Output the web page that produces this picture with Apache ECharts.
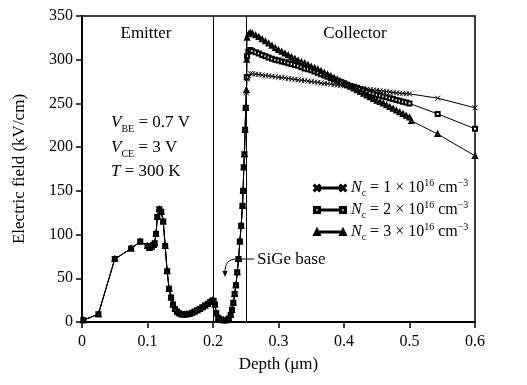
<!DOCTYPE html>
<html>
<head>
<meta charset="utf-8">
<script src="https://cdn.jsdelivr.net/npm/echarts@6/dist/echarts.min.js"></script>
<style>html,body{margin:0;padding:0;background:#fff;}#c{width:527px;height:385px;}</style>
</head>
<body>
<div id="c"></div>
<script>
// Shared emitter/base profile (all three doping levels overlap here)
var sharedProfile = [
  [0.002,2],[0.025,9],[0.05,72],[0.075,84],[0.089,92],[0.1,87],[0.103,85],[0.106,86],[0.109,88],
  [0.111,90],[0.113,101],[0.115,120],[0.118,129],[0.121,126],[0.124,115],[0.127,87],[0.13,58],
  [0.133,38],[0.136,28],[0.139,20],[0.142,15],[0.145,12],[0.148,10],[0.152,9],[0.156,8.5],[0.16,9],
  [0.164,9.5],[0.168,10.5],[0.172,12],[0.176,13.5],[0.18,15],[0.184,17],[0.188,19],[0.192,21],
  [0.196,23],[0.199,24.5],[0.201,24],[0.203,20],[0.205,10],[0.208,5],[0.212,3],[0.216,2],[0.22,2],
  [0.224,4],[0.227,8],[0.229,14],[0.231,22],[0.233,32],[0.235,42],[0.237,57],[0.239,72],[0.241,92],
  [0.243,110],[0.245,133],[0.246,150],[0.247,177],[0.248,192],[0.249,220],[0.25,245]
];
// Collector region, Nc = 1e16
var collector1 = [
  [0.251,262],[0.252,278],[0.254,282],[0.257,284],[0.26,284],[0.265,283.5],[0.27,283],[0.275,282.5],
  [0.28,282],[0.285,281.5],[0.29,281],[0.295,280.5],[0.30,280],[0.305,279.5],[0.31,279],[0.315,278.5],
  [0.32,278],[0.325,277.5],[0.33,277],[0.335,276.5],[0.34,276],[0.345,275.5],[0.35,275],[0.355,274.5],
  [0.36,274],[0.365,273.5],[0.37,273],[0.375,272.5],[0.38,272],[0.385,271.5],[0.39,271],[0.395,270.5],
  [0.40,270],[0.405,269.5],[0.41,269],[0.415,268.5],[0.42,268],[0.425,267.5],[0.43,267],[0.435,266.5],
  [0.44,266],[0.445,265.5],[0.45,265],[0.455,264.5],[0.46,264],[0.465,263.5],[0.47,263],[0.475,262.5],
  [0.48,262],[0.485,261.8],[0.49,261.5],[0.495,261.2],[0.50,261],[0.543,256],[0.6,245]
];
// Nc = 2e16
var collector2 = [
  [0.2515,280],[0.252,304],[0.254,309],[0.257,311],[0.26,310],[0.265,308.5],[0.27,307],[0.275,305.5],
  [0.28,304],[0.285,302.5],[0.29,301],[0.295,300],[0.30,299],[0.305,298],[0.31,297],[0.315,296],
  [0.32,295],[0.325,294],[0.33,293],[0.335,291.5],[0.34,290],[0.345,289],[0.35,288],[0.355,286.5],
  [0.36,285],[0.365,283.5],[0.37,282],[0.375,280.5],[0.38,279],[0.385,277.5],[0.39,276],[0.395,274.5],
  [0.40,273],[0.405,271.5],[0.41,270],[0.415,269],[0.42,268],[0.425,266.5],[0.43,265],[0.435,263.5],
  [0.44,262],[0.445,261],[0.45,260],[0.455,259],[0.46,258],[0.465,257],[0.47,256],[0.475,255],
  [0.48,254],[0.485,253],[0.49,252],[0.495,251],[0.50,250],[0.543,238],[0.6,221]
];
// Nc = 3e16
var collector3 = [
  [0.251,265],[0.2515,300],[0.252,325],[0.254,329],[0.257,331],[0.26,330],[0.265,328],[0.27,326],
  [0.275,323.5],[0.28,321],[0.285,318.5],[0.29,316],[0.295,313.5],[0.30,311],[0.305,309],[0.31,307],
  [0.315,305],[0.32,303],[0.325,301],[0.33,299],[0.335,297.5],[0.34,296],[0.345,294],[0.35,292],
  [0.355,290.5],[0.36,289],[0.365,287],[0.37,285],[0.375,283],[0.38,281],[0.385,279],[0.39,277],
  [0.395,275],[0.40,273],[0.405,271],[0.41,269],[0.415,267],[0.42,265],[0.425,263],[0.43,261],
  [0.435,259],[0.44,257],[0.445,255],[0.45,253],[0.455,251.5],[0.46,250],[0.465,248],[0.47,246],
  [0.475,244],[0.48,242],[0.485,240],[0.49,238],[0.495,236],[0.50,234],[0.503,230],[0.543,215],[0.6,190]
];
var seriesNames = ['Nc1','Nc2','Nc3'];
var dopingDigits = ['1','2','3'];
var xTicks = [0,0.1,0.2,0.3,0.4,0.5,0.6];
var yTicks = [0,50,100,150,200,250,300,350];
var regionBoundaries = [0.2,0.25];

var serif = '"Liberation Serif","Times New Roman",serif';
var xMark = 'path://M0,0L8,8M8,0L0,8';
var icon1 = 'path://M0,0.8L0.8,0L3,2.2L5.2,0L6,0.8L3.8,3L6,5.2L5.2,6L3,3.8L0.8,6L0,5.2L2.2,3Z' +
  'M6,2.6H26V3.4H6Z' +
  'M26,0.8L26.8,0L29,2.2L31.2,0L32,0.8L29.8,3L32,5.2L31.2,6L29,3.8L26.8,6L26,5.2L28.2,3Z';
var icon2 = 'path://M0,0H6V6H0ZM1.2,1.2V4.8H4.8V1.2Z M6,2.6H26V3.4H6Z M26,0H32V6H26ZM27.2,1.2V4.8H30.8V1.2Z';
var icon3 = 'path://M0,6L3,0L6,6Z M6,2.6H26V3.4H6Z M26,6L29,0L32,6Z';

var chart = echarts.init(document.getElementById('c'), null, {renderer:'canvas'});
var richLegend = {
  i:{fontFamily:serif,fontSize:16,fontStyle:'italic',lineHeight:20,verticalAlign:'middle'},
  s:{fontFamily:serif,fontSize:10,lineHeight:20,verticalAlign:'bottom'},
  n:{fontFamily:serif,fontSize:16,lineHeight:20,verticalAlign:'middle'},
  p:{fontFamily:serif,fontSize:10,lineHeight:20,verticalAlign:'top'}
};
function mk(name, data, symbol, size){
  return {
    name:name, type:'line', data:data, symbol:symbol, symbolSize:size, showSymbol:true,
    showAllSymbol:true,
    lineStyle:{color:'#000',width:1}, itemStyle:{color:'#000',borderColor:'#000',borderWidth:1},
    animation:false, z:3
  };
}
var s1 = mk(seriesNames[0], sharedProfile.concat(collector1), xMark, 5);
var s2 = mk(seriesNames[1], sharedProfile.concat(collector2), 'emptyRect', 4);
var s3 = mk(seriesNames[2], sharedProfile.concat(collector3), 'emptyTriangle', 4);
s1.markLine = {
  silent:true, symbol:'none', label:{show:false},
  lineStyle:{color:'#000',width:1,type:'solid'},
  data: regionBoundaries.map(function(v){return {xAxis:v};})
};
var icons = [icon1, icon2, icon3];
var richV = {i:{fontFamily:serif,fontSize:17,fontStyle:'italic',lineHeight:22,verticalAlign:'middle'},
             s:{fontFamily:serif,fontSize:10,lineHeight:22,verticalAlign:'bottom'},
             n:{fontFamily:serif,fontSize:17,lineHeight:22,verticalAlign:'middle'}};
chart.setOption({
  backgroundColor:'#fff',
  animation:false,
  grid:{left:82,right:52,top:16,bottom:63,show:true,borderColor:'#000',borderWidth:1.5,backgroundColor:'transparent'},
  xAxis:{
    type:'value', min:0, max:0.6, interval:0.1,
    name:'Depth (\u03bcm)', nameLocation:'middle', nameGap:34,
    nameTextStyle:{fontFamily:serif,fontSize:17,color:'#000'},
    axisLine:{show:true,lineStyle:{color:'#000',width:2}},
    axisTick:{show:true,length:6,inside:false,lineStyle:{color:'#000',width:1.5}},
    axisLabel:{fontFamily:serif,fontSize:16,color:'#000',margin:12,
      formatter:function(v){var t=xTicks.filter(function(k){return Math.abs(k-v)<1e-9;}); return t.length?String(t[0]):'';}},
    splitLine:{show:false}
  },
  yAxis:{
    type:'value', min:0, max:350, interval:50,
    name:'Electric field (kV/cm)', nameLocation:'middle', nameGap:54,
    nameTextStyle:{fontFamily:serif,fontSize:17,color:'#000'},
    axisLine:{show:true,lineStyle:{color:'#000',width:2}},
    axisTick:{show:true,length:6,inside:false,lineStyle:{color:'#000',width:1.5}},
    axisLabel:{fontFamily:serif,fontSize:16,color:'#000',margin:9,
      formatter:function(v){return yTicks.indexOf(v)>=0?String(v):'';}},
    splitLine:{show:false}
  },
  legend:{
    orient:'vertical', left:308, top:173, itemWidth:32, itemHeight:6, itemGap:2,
    selectedMode:false,
    data: seriesNames.map(function(n,i){return {name:n, icon:icons[i]};}),
    formatter:function(name){
      var d = dopingDigits[seriesNames.indexOf(name)];
      return '{i|N}{s|c}{n| = '+d+' \u00d7 10}{p|16}{n| cm}{p|\u22123}';
    },
    textStyle:{color:'#000',rich:richLegend}
  },
  graphic:[
    {type:'text',style:{text:'Emitter',x:146,y:34,align:'center',verticalAlign:'middle',font:'17px '+serif,fill:'#000'}},
    {type:'text',style:{text:'Collector',x:355,y:34,align:'center',verticalAlign:'middle',font:'17px '+serif,fill:'#000'}},
    {type:'text',style:{x:111,y:123,verticalAlign:'middle',text:'{i|V}{s|BE}{n| = 0.7 V}',rich:richV}},
    {type:'text',style:{x:111,y:148,verticalAlign:'middle',text:'{i|V}{s|CE}{n| = 3 V}',rich:richV}},
    {type:'text',style:{x:111,y:172,verticalAlign:'middle',text:'{i|T}{n| = 300 K}',rich:richV}},
    {type:'text',style:{text:'SiGe base',x:257,y:260,verticalAlign:'middle',font:'17px '+serif,fill:'#000'}},
    {type:'polyline',shape:{points:[[237,259],[254,259]]},style:{stroke:'#000',lineWidth:1}},
    {type:'bezierCurve',shape:{x1:237,y1:259,cpx1:228,cpy1:259,cpx2:225,cpy2:264,x2:225,y2:272},style:{stroke:'#000',lineWidth:1,fill:null}},
    {type:'polygon',shape:{points:[[222.5,271],[227.5,271],[225,277]]},style:{fill:'#000'}}
  ],
  series:[s1,s2,s3]
});
</script>
</body>
</html>
